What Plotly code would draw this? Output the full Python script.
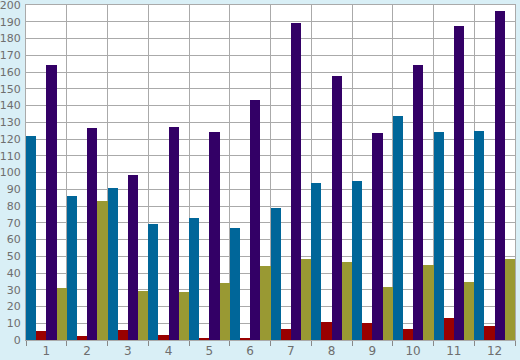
import plotly.graph_objects as go

categories = [1, 2, 3, 4, 5, 6, 7, 8, 9, 10, 11, 12]
blue_vals = [122, 86, 91, 69, 73, 67, 79, 94, 95, 134, 124, 125]
red_vals = [5.5, 2.6, 6.2, 3.2, 0.8, 0.8, 6.8, 11, 10.4, 6.8, 13.4, 8.6]
purple_vals = [164, 126.5, 98.5, 127, 124, 143, 189.5, 157.5, 123.5, 164, 187.5, 196.5]
olive_vals = [31, 83, 29.5, 28.5, 34, 44, 48.5, 46.5, 31.5, 44.5, 34.5, 48.5]
y_ticks = list(range(0, 201, 10))

series = [
    ("Series 1", blue_vals, "#006699"),
    ("Series 2", red_vals, "#990000"),
    ("Series 3", purple_vals, "#330066"),
    ("Series 4", olive_vals, "#999933"),
]

fig = go.Figure()
for name, vals, col in series:
    fig.add_trace(go.Bar(x=categories, y=vals, name=name, marker=dict(color=col, line=dict(width=0))))

bounds = [c + 0.5 for c in [0] + categories]

fig.update_layout(
    width=520, height=360,
    margin=dict(l=26, r=5, t=5, b=20),
    paper_bgcolor="#D9EFF6",
    plot_bgcolor="#FFFFFF",
    barmode="group", bargap=0, bargroupgap=0,
    showlegend=False,
    font=dict(family="DejaVu Sans", size=12, color="#6E6E6E"),
    xaxis=dict(
        range=[0.5, 12.5], tickvals=categories, ticktext=[str(c) for c in categories],
        showgrid=False, ticks="", showline=True, linecolor="#AAAAAA", linewidth=1, mirror=True,
        minor=dict(tickvals=bounds, showgrid=True, gridcolor="#AAAAAA", gridwidth=1,
                   ticks="outside", ticklen=5, tickcolor="#888888"),
        tickfont=dict(size=12, color="#6E6E6E"), zeroline=False, automargin=False,
        ticklabelstandoff=0,
    ),
    yaxis=dict(
        range=[0, 200], tickvals=y_ticks, showgrid=True, gridcolor="#AAAAAA", gridwidth=1,
        showline=True, linecolor="#AAAAAA", linewidth=1, mirror=True, ticks="", ticklabelstandoff=2,
        tickfont=dict(size=11, color="#6E6E6E"), zeroline=False, automargin=False,
        ticklabeloverflow="allow",
    ),
)

fig.write_html(
    "out.html",
    config={"displayModeBar": False},
    post_script="document.body.style.margin='0';document.body.style.background='#D9EFF6';",
)
